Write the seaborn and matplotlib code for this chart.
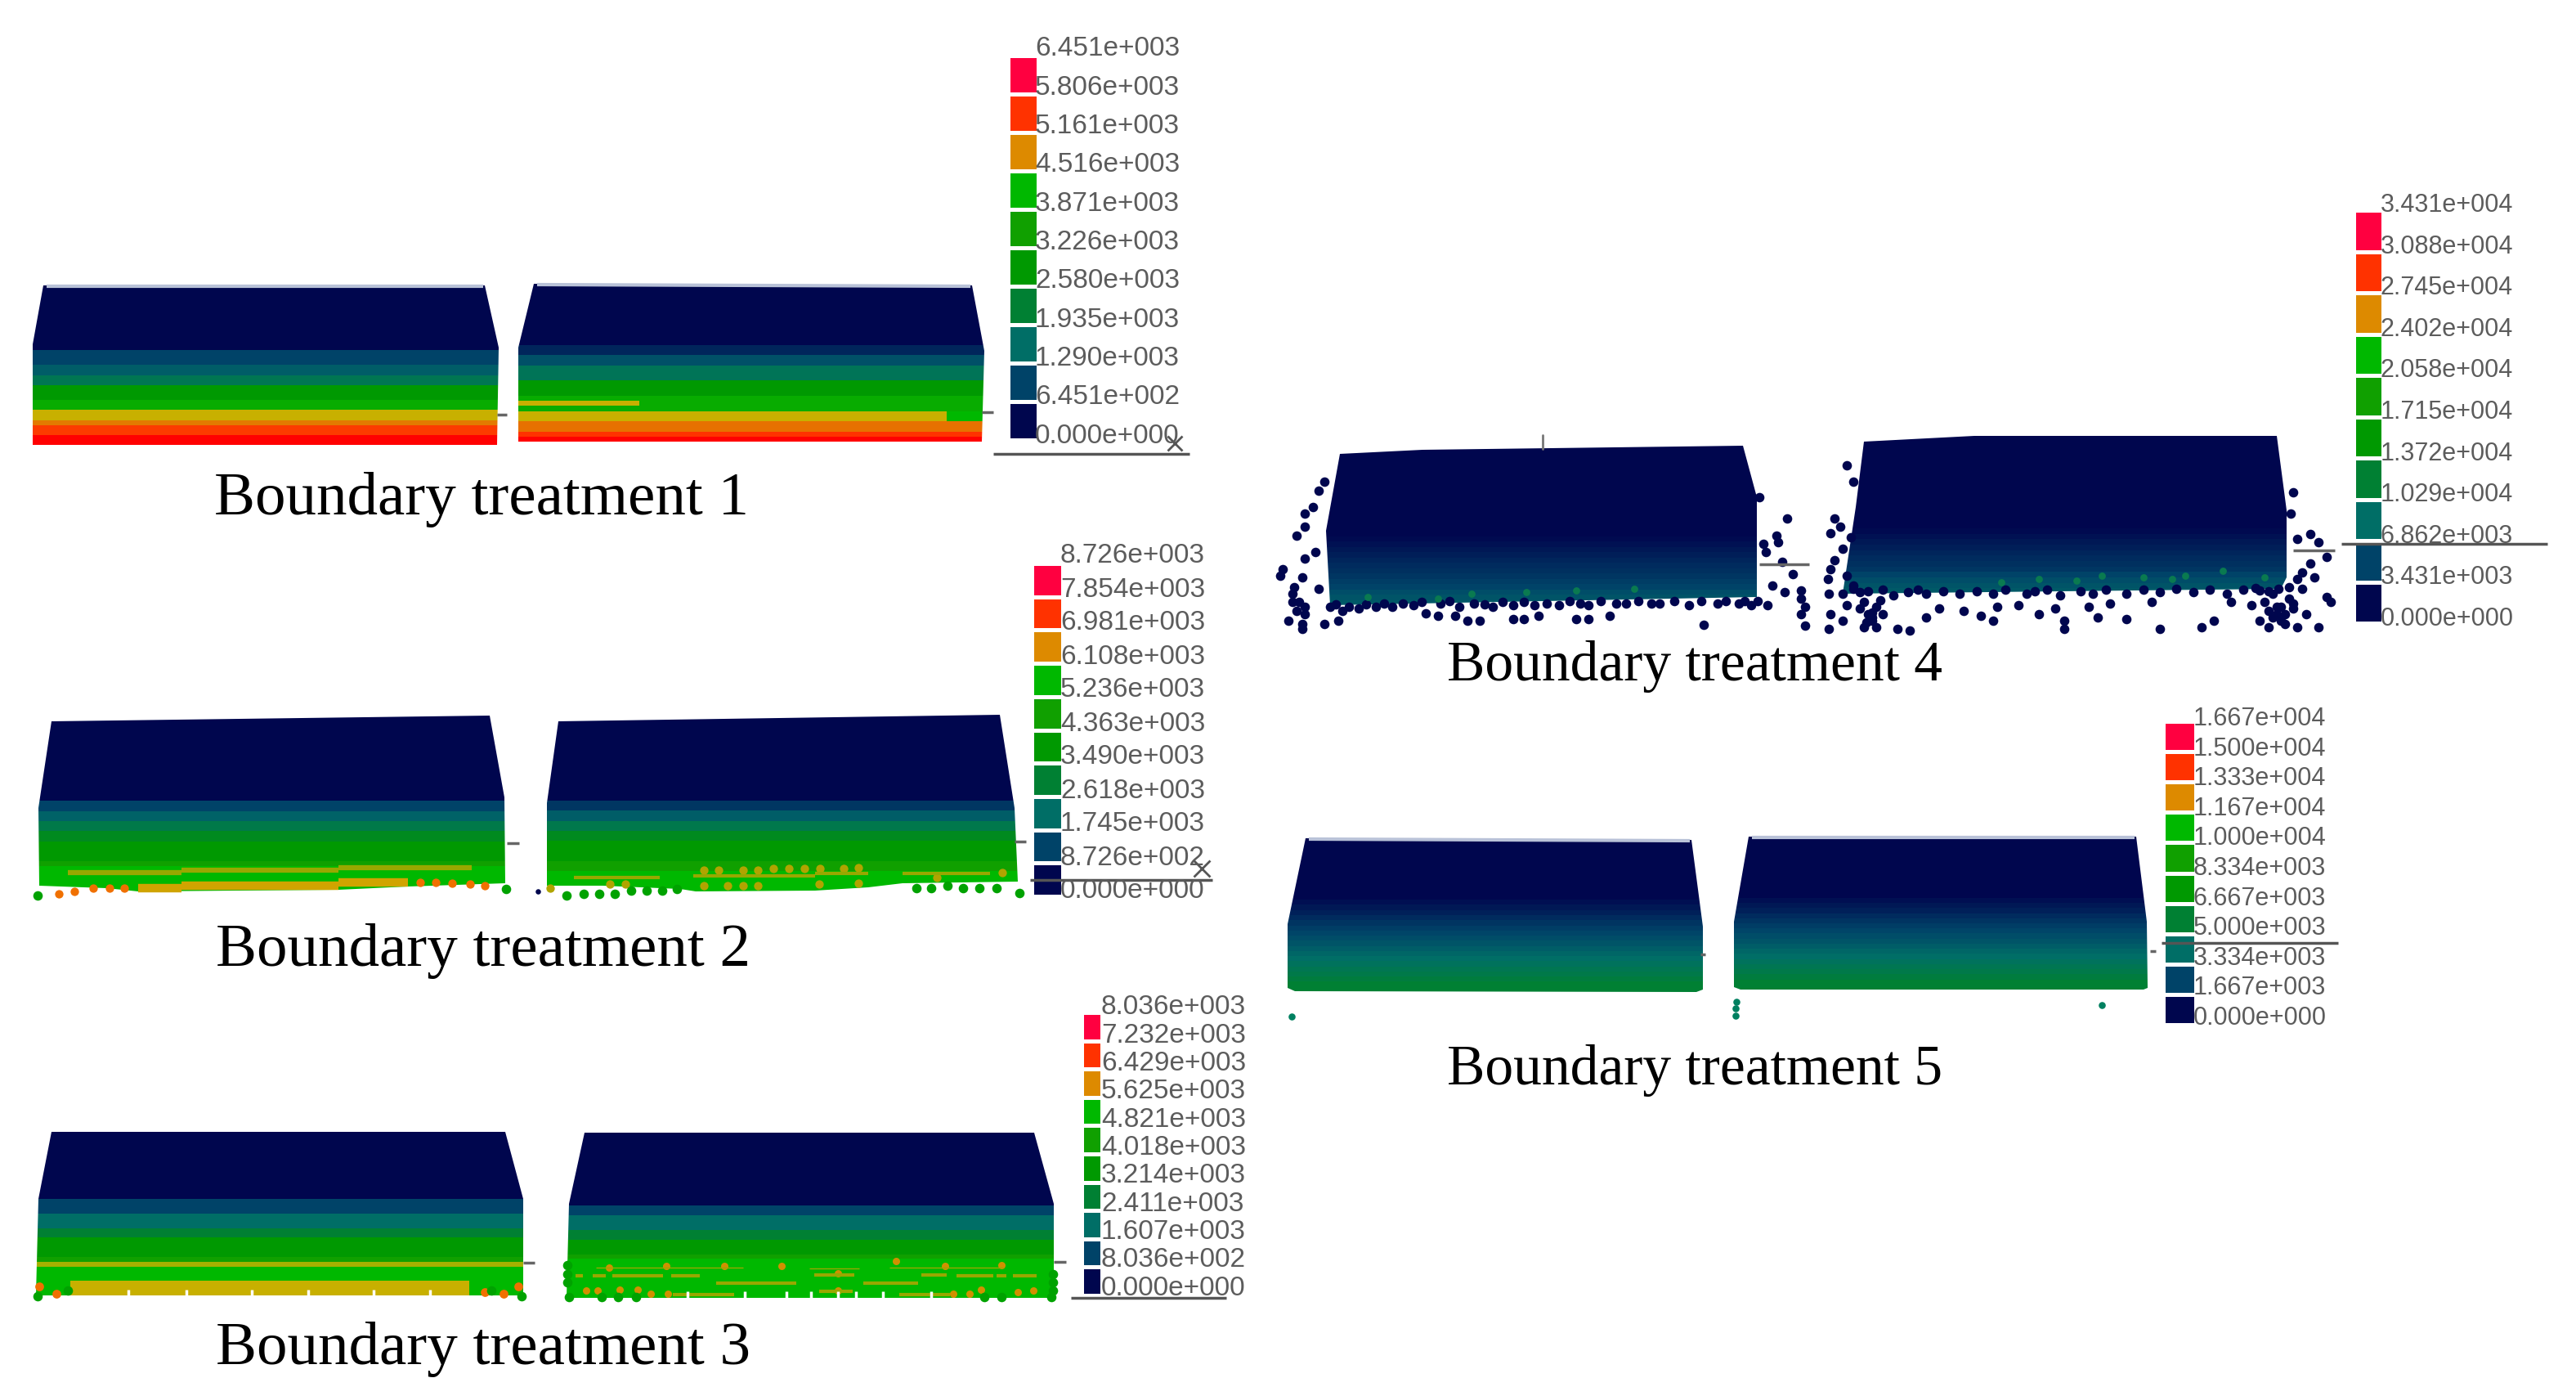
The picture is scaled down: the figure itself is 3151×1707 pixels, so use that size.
# Boundary treatment comparison, pressure fields of five boundary treatments
import numpy as np
import matplotlib
matplotlib.use("Agg")
import matplotlib.pyplot as plt
import seaborn as sns
from matplotlib.colors import LinearSegmentedColormap
from matplotlib.path import Path

sns.set_theme(style="white")
plt.rcParams["font.family"] = ["Liberation Sans", "DejaVu Sans"]

W, H = 3151, 1707

# -----------------------------
# Data
# -----------------------------
titles = ["Boundary treatment 1", "Boundary treatment 2", "Boundary treatment 3",
          "Boundary treatment 4", "Boundary treatment 5"]

scale_1 = ["6.451e+003", "5.806e+003", "5.161e+003", "4.516e+003", "3.871e+003", "3.226e+003",
           "2.580e+003", "1.935e+003", "1.290e+003", "6.451e+002", "0.000e+000"]
scale_2 = ["8.726e+003", "7.854e+003", "6.981e+003", "6.108e+003", "5.236e+003", "4.363e+003",
           "3.490e+003", "2.618e+003", "1.745e+003", "8.726e+002", "0.000e+000"]
scale_3 = ["8.036e+003", "7.232e+003", "6.429e+003", "5.625e+003", "4.821e+003", "4.018e+003",
           "3.214e+003", "2.411e+003", "1.607e+003", "8.036e+002", "0.000e+000"]
scale_4 = ["3.431e+004", "3.088e+004", "2.745e+004", "2.402e+004", "2.058e+004", "1.715e+004",
           "1.372e+004", "1.029e+004", "6.862e+003", "3.431e+003", "0.000e+000"]
scale_5 = ["1.667e+004", "1.500e+004", "1.333e+004", "1.167e+004", "1.000e+004", "8.334e+003",
           "6.667e+003", "5.000e+003", "3.334e+003", "1.667e+003", "0.000e+000"]

# colour level of each horizontal layer (top to bottom) and how many rows it spans
p1_left_levels = [0, 1, 1.6, 2.4, 4, 5.5, 6.6, 7.2, 7.9, 8.5]
p1_left_rows = [13, 3, 2, 2, 3, 2, 2, 1, 2, 2]
p1_right_levels = [0, 0.5, 1.3, 2.3, 4, 5.5, 6.6, 7.3, 8, 8.5]
p1_right_rows = [12, 2, 2, 3, 3, 3, 2, 2, 1, 1]

p2_left_levels = [0, 1, 1.7, 2.6, 3.4, 4, 5, 6]
p2_left_rows = [17, 2, 2, 2, 2, 4, 1, 5]
p2_right_levels = [0, 0.8, 1.6, 2.5, 3.4, 4, 5, 6]
p2_right_rows = [17, 2, 2, 2, 2, 4, 2, 4]

p3_left_levels = [0, 1, 2, 3, 4, 5, 6.5, 6, 6.6]
p3_left_rows = [14, 3, 3, 2, 4, 1, 1, 3, 3]
p3_right_levels = [0, 1, 2, 3, 4, 5, 6]
p3_right_rows = [15, 2, 3, 2, 3, 1, 8]

p4_left_levels = [0, 0.1, 0.2, 0.3, 0.4, 0.5, 0.6, 0.7, 0.8, 0.9, 1.0, 1.2, 1.4, 1.5]
p4_left_rows = [17, 1, 1, 1, 1, 1, 1, 1, 1, 1, 1, 1, 1, 1]
p4_right_levels = [0, 0.1, 0.2, 0.3, 0.4, 0.5, 0.6, 0.7, 0.8, 1.0, 1.2, 1.4, 1.5]
p4_right_rows = [17, 1, 1, 1, 1, 1, 1, 1, 1, 1, 1, 1, 1]

p5_left_levels = [0, .15, .3, .45, .6, .75, .9, 1.05, 1.2, 1.4, 1.6, 1.8, 2, 2.2, 2.4, 2.6, 2.8, 3]
p5_left_rows = [12, 1, 1, 1, 1, 1, 1, 1, 1, 1, 1, 1, 1, 1, 1, 1, 1, 2]
p5_right_levels = p5_left_levels
p5_right_rows = p5_left_rows

# local streaks in a layer: first row, last row, first column, last column, level
p1_right_streaks = [(23, 23, 0, 26, 6.6), (25, 26, 92, 100, 6)]
p3_left_streaks = [(31, 33, 0, 7, 6), (31, 33, 89, 100, 6)]

# stray particles, x/y in the coordinates of the crop they were read from
p4_stray_x = [78, 72, 65, 55, 55, 45, 68, 55, 28, 25, 52, 42, 72, 40, 40, 48, 55, 45, 55, 35, 52, 52,
              78, 95, 85, 100, 120, 140, 160, 185, 200, 215, 235, 250, 265, 305, 318, 335, 380, 395,
              420, 533, 240, 280, 305, 330, 360, 395, 440, 480, 515, 550, 575, 590, 610, 605, 608,
              620, 622, 633, 600, 627, 640, 615, 630, 650, 655, 650, 655, 650,
              705, 712, 690, 697, 685, 710, 700, 690, 685, 682, 705, 712, 683, 700, 705, 725, 740,
              730, 735, 725, 740, 685, 683, 700, 765, 780, 800, 815, 845, 865, 880, 885, 910, 935,
              955, 965, 965, 995, 1005, 1020, 1040, 1080, 1130, 1145, 1070, 1165, 1190, 1220, 1240,
              1210, 1230, 1245, 1270, 1255, 1280, 1285, 1265, 1250, 1260, 1280, 1245, 1260, 1270,
              1240, 1237, 1215, 1225, 1200, 1235, 1245, 720, 760, 800, 840, 880, 920, 960, 1000,
              1040, 1080, 1120, 1160, 1200]
p4_stray_y = [905, 930, 980, 1000, 1040, 1065, 1115, 1135, 1165, 1185, 1190, 1220, 1225, 1240, 1265,
              1265, 1280, 1290, 1300, 1320, 1330, 1345, 1330, 1320, 1280, 1290, 1285, 1280, 1280,
              1275, 1298, 1305, 1305, 1320, 1320, 1315, 1315, 1305, 1315, 1315, 1305, 1332, 1280,
              1280, 1275, 1275, 1275, 1275, 1270, 1270, 1275, 1270, 1270, 1275, 1275, 1090, 1115,
              1065, 1085, 1015, 950, 1145, 1180, 1215, 1235, 1255, 1280, 1300, 1335, 1230,
              855, 905, 1015, 1040, 1058, 1070, 1105, 1140, 1165, 1195, 1185, 1215, 1240, 1240,
              1275, 1265, 1280, 1300, 1320, 1340, 1340, 1300, 1345, 1320, 1345, 1350, 1310, 1285,
              1290, 1305, 1320, 1280, 1275, 1300, 1285, 1320, 1345, 1280, 1310, 1270, 1315, 1345,
              1340, 1320, 1265, 1265, 1275, 1300, 1270, 1340, 1330, 1340, 1340, 1300, 1250, 1265,
              1190, 1175, 1150, 1130, 1075, 1060, 1085, 935, 1000, 1240, 1280, 1320, 1220, 1195,
              1235, 1245, 1240, 1240, 1240, 1240, 1245, 1240, 1240, 1235, 1235, 1240, 1230]
# denser particles along the lower edges of treatment 4
p4_edge_x = [92, 108, 128, 150, 172, 195, 218, 228, 258, 270, 292, 318, 345, 372, 385, 410, 428, 455,
             470, 498, 530, 560, 582, 598, 712, 730, 748, 778, 790, 820, 860, 895, 930, 945, 985,
             1015, 1060, 1100, 1140, 1180, 1195, 1210, 1222, 720, 735, 748, 728, 745, 735, 1205, 1220,
             1235, 1215, 1230, 1210, 1225, 1240, 1250]
p4_edge_y = [1272, 1278, 1272, 1270, 1268, 1265, 1270, 1262, 1268, 1272, 1265, 1265, 1268, 1262, 1270,
             1262, 1268, 1262, 1268, 1262, 1262, 1262, 1262, 1262, 1225, 1232, 1228, 1235, 1228, 1232,
             1232, 1228, 1232, 1228, 1232, 1228, 1228, 1225, 1228, 1228, 1222, 1232, 1225, 1285, 1310,
             1300, 1325, 1260, 1295, 1265, 1280, 1255, 1310, 1300, 1290, 1320, 1285, 1225]
# brighter speckle in the lower part of treatment 4
p4_spot_x = [215, 255, 320, 380, 890, 935, 1010, 1095, 1110, 1155, 1205, 130, 450, 980, 1060]
p4_spot_y = [1255, 1240, 1235, 1230, 1205, 1195, 1185, 1195, 1185, 1170, 1190, 1250, 1225, 1200, 1190]

# treatment 2, left block, crop x0, x1, y of the yellow strips
p2l_olive_x0 = [130, 470, 940]
p2l_olive_x1 = [470, 940, 1340]
p2l_olive_y = [82, 72, 62]
p2l_yellow_x0 = [340, 470, 940]
p2l_yellow_x1 = [470, 940, 1150]
p2l_yellow_y = [137, 130, 117]
p2l_spot_x = [205, 255, 298, 1185, 1232, 1282, 1335, 1380, 103, 150]
p2l_spot_y = [138, 138, 138, 118, 118, 120, 122, 130, 158, 150]
p2l_green_x = [40, 1443]
p2l_green_y = [165, 140]

# treatment 2, right block
p2r_olive_x0 = [110, 490, 880, 1160]
p2r_olive_x1 = [385, 880, 1050, 1440]
p2r_olive_y = [100, 92, 85, 83]
p2r_spot_x = [525, 572, 650, 698, 748, 797, 848, 897, 973, 1020, 525, 600, 650, 698, 895, 1020, 35,
              225, 275, 1270, 1480]
p2r_spot_y = [72, 72, 72, 72, 65, 65, 65, 65, 65, 62, 130, 130, 130, 130, 122, 120, 138, 122, 122,
              100, 80]
p2r_green_x = [85, 140, 190, 240, 292, 342, 392, 440, 1205, 1253, 1303, 1355, 1405, 1462, 1535]
p2r_green_y = [165, 158, 158, 158, 148, 148, 148, 140, 138, 138, 130, 138, 138, 138, 155]

# treatment 3, left block
p3l_orange_x = [95, 1435, 45, 1480, 1380]
p3l_orange_y = [155, 155, 130, 130, 150]
p3l_green_x = [40, 1490, 130, 1400]
p3l_green_y = [165, 165, 145, 145]
p3l_notch_x = [310, 485, 680, 850, 1045, 1215]

# treatment 3, right block
p3r_olive_x0 = [120, 760, 1000, 60, 110, 170, 345, 775, 1095, 1200, 1320, 1370, 480, 920, 350, 790, 1030]
p3r_olive_x1 = [560, 910, 1340, 80, 150, 320, 430, 895, 1170, 1310, 1350, 1440, 720, 1085, 535, 890, 1180]
p3r_olive_y = [150, 152, 150, 180, 180, 180, 180, 178, 178, 180, 180, 180, 208, 208, 250, 238, 250]
p3r_olive_lw = [1, 1, 1, 3, 3, 3, 3, 3, 3, 3, 3, 3, 3, 3, 3, 3, 3]
p3r_spot_x = [160, 330, 505, 675, 845, 1020, 1165, 1335, 90, 125, 190, 245, 285, 335, 1190, 1240, 1275,
              1385, 1430, 845]
p3r_spot_y = [150, 145, 145, 143, 170, 125, 145, 140, 235, 235, 232, 232, 245, 245, 245, 245, 232,
              240, 235, 235]
p3r_green_x = [38, 138, 185, 240, 1283, 1335, 1485, 35, 35, 35, 1490, 1490, 1490]
p3r_green_y = [258, 258, 258, 258, 258, 258, 258, 140, 175, 205, 175, 205, 235]
p3r_notch_x = [395, 565, 690, 765, 845, 900, 980, 1125]

p5_stray_x = [47, 692, 692, 694, 1225]
p5_stray_y = [1150, 1145, 1120, 1095, 1108]

# -----------------------------
# Colours
# -----------------------------
swatch_levels = [9, 8, 7, 6, 5, 4, 3, 2, 1, 0]
level_cmap = LinearSegmentedColormap.from_list("levels", [
    (0 / 9, "#00064e"), (1 / 9, "#004468"), (2 / 9, "#006f66"), (3 / 9, "#008033"),
    (4 / 9, "#009900"), (5 / 9, "#10a000"), (6 / 9, "#00b800"), (6.6 / 9, "#c8b000"),
    (7 / 9, "#dc8c00"), (8 / 9, "#ff3300"), (8.5 / 9, "#ff0000"), (9 / 9, "#ff0040")])
OLIVE = "#98a800"
YELLOW = "#d0a400"
ORANGE = "#f07000"
GREEN = "#00a200"
NAVY = "#00064e"

# -----------------------------
# Layout, in picture pixels
# -----------------------------
blocks = [
    (p1_left_levels, p1_left_rows, [],
     [(53, 349), (593, 349), (610, 425), (608, 544), (40, 544), (40, 421)]),
    (p1_right_levels, p1_right_rows, p1_right_streaks,
     [(653, 347), (1189, 349), (1204, 429), (1201, 540), (634, 540), (634, 425)]),
    (p2_left_levels, p2_left_rows, [],
     [(63, 882), (599, 875), (617, 975), (618, 1080), (499, 1084), (414, 1088), (169, 1090),
      (130, 1086), (48, 1083), (47, 988)]),
    (p2_right_levels, p2_right_rows, [],
     [(683, 882), (1223, 874), (1241, 988), (1245, 1078), (1104, 1080), (1062, 1085), (997, 1089),
      (851, 1090), (832, 1087), (737, 1083), (669, 1083), (669, 982)]),
    (p3_left_levels, p3_left_rows, p3_left_streaks,
     [(63, 1384), (618, 1384), (640, 1466), (640, 1584), (44, 1584), (47, 1466)]),
    (p3_right_levels, p3_right_rows, [],
     [(715, 1385), (1265, 1385), (1289, 1472), (1289, 1587), (693, 1587), (696, 1472)]),
    (p4_left_levels, p4_left_rows, [],
     [(1639, 555), (1740, 550), (2132, 545), (2149, 608), (2149, 730), (1627, 740), (1622, 649)]),
    (p4_right_levels, p4_right_rows, [],
     [(2280, 540), (2415, 533), (2785, 533), (2797, 624), (2797, 706), (2790, 720), (2254, 726),
      (2270, 620)]),
    (p5_left_levels, p5_left_rows, [],
     [(1597, 1025), (2069, 1027), (2083, 1133), (2083, 1210), (2075, 1213), (1584, 1212), (1575, 1208),
      (1575, 1130)]),
    (p5_right_levels, p5_right_rows, [],
     [(2139, 1023), (2613, 1023), (2626, 1127), (2627, 1208), (2622, 1210), (2129, 1210), (2121, 1207),
      (2121, 1127)]),
]

# x0, x1, y0, y1 of swatches; x, first y, last y and size of the labels
legends = [
    (scale_1, (1233, 1270, 68, 538), (1266, 60, 533, 24)),
    (scale_2, (1262, 1300, 689, 1096), (1297, 680, 1090, 24)),
    (scale_3, (1323, 1348, 1238, 1584), (1347, 1232, 1575, 24)),
    (scale_4, (2879, 2915, 257, 762), (2912, 251, 757, 22)),
    (scale_5, (2646, 2686, 882, 1253), (2683, 879, 1245, 22)),
]

title_pos = [(589, 629), (591, 1181), (591, 1668), (2073, 832), (2073, 1326)]
title_size = [54, 54, 54, 50, 50]

axis_lines = [(1215, 1455, 555), (1260, 1483, 1076), (1310, 1500, 1587), (2864, 3116, 665),
              (2644, 2860, 1153)]
side_ticks = [(608, 620, 507), (1201, 1215, 504), (620, 635, 1031), (1241, 1255, 1029),
              (640, 654, 1544), (1289, 1304, 1543), (2152, 2213, 690), (2805, 2856, 673),
              (2080, 2086, 1167), (2630, 2637, 1163)]

# -----------------------------
# Helpers
# -----------------------------
fig = plt.figure(figsize=(W / 100, H / 100), dpi=100, facecolor="white")


def pixel_axes(x0, x1, y0, y1, zorder=1):
    ax = fig.add_axes([x0 / W, 1 - y1 / H, (x1 - x0) / W, (y1 - y0) / H], zorder=zorder)
    ax.set_axis_off()
    return ax


def crop_axes(x0, y0, w, h, crop_w, crop_h):
    # axes whose data coordinates are those of a zoomed crop of the picture
    ax = pixel_axes(x0, x0 + w, y0, y0 + h, zorder=3)
    ax.set_xlim(0, crop_w)
    ax.set_ylim(crop_h, 0)
    ax.patch.set_alpha(0)
    return ax


def dots(ax, x, y, color, size):
    sns.scatterplot(x=x, y=y, ax=ax, color=color, marker="o", s=size, linewidth=0, clip_on=False)


overlay = pixel_axes(0, W, 0, H, zorder=5)
overlay.set_xlim(0, W)
overlay.set_ylim(H, 0)
overlay.patch.set_alpha(0)

# -----------------------------
# Particle blocks
# -----------------------------
for levels, rows, streaks, outline in blocks:
    grid = np.repeat(levels, rows)[:, None] * np.ones((1, 100))
    for r0, r1, c0, c1, level in streaks:
        grid[r0:r1 + 1, c0:c1] = level

    xs, ys = zip(*outline)
    ax = pixel_axes(min(xs), max(xs), min(ys), max(ys), zorder=2)
    sns.heatmap(grid, ax=ax, cmap=level_cmap, vmin=0, vmax=9, cbar=False,
                xticklabels=False, yticklabels=False)
    ax.set_axis_off()
    ax.collections[0].set_clip_path(Path(list(outline) + [outline[0]]), overlay.transData)

# pale top edge seen on the blocks
for levels, rows, streaks, outline in blocks[-2:] + blocks[:2]:
    overlay.plot([outline[0][0] + 4, outline[1][0] - 2], [outline[0][1] + 1, outline[1][1] + 1],
                 color="#b9c2d8", lw=3, solid_capstyle="butt")

# -----------------------------
# Treatment 4 and 5 stray particles
# -----------------------------
crop4 = crop_axes(1540, 220, 1600, 640, 1568, 1568)
dots(crop4, p4_stray_x, p4_stray_y, NAVY, 70)
dots(crop4, p4_edge_x, p4_edge_y, NAVY, 70)
dots(crop4, p4_spot_x, p4_spot_y, "#0a7a50", 40)

crop5 = crop_axes(1540, 860, 1320, 500, 1568, 1500)
dots(crop5, p5_stray_x, p5_stray_y, "#008060", 38)

# -----------------------------
# Treatment 2 and 3 streaks and edge particles
# -----------------------------
c2l = crop_axes(30, 1040, 640, 60, 1568, 180)
c2l.hlines(p2l_olive_y, p2l_olive_x0, p2l_olive_x1, color=OLIVE, lw=4.5)
c2l.hlines(p2l_yellow_y, p2l_yellow_x0, p2l_yellow_x1, color=YELLOW, lw=7.5)
dots(c2l, p2l_spot_x, p2l_spot_y, ORANGE, 55)
dots(c2l, p2l_green_x, p2l_green_y, GREEN, 70)

c2r = crop_axes(660, 1040, 600, 60, 1568, 180)
c2r.hlines(p2r_olive_y, p2r_olive_x0, p2r_olive_x1, color=OLIVE, lw=3)
dots(c2r, p2r_spot_x, p2r_spot_y, "#b0a400", 55)
dots(c2r, p2r_green_x, p2r_green_y, GREEN, 70)
dots(overlay, [658], [1090], NAVY, 22)

c3l = crop_axes(30, 1530, 640, 70, 1568, 210)
c3l.vlines(p3l_notch_x, 140, 165, color="white", lw=2.5)
dots(c3l, p3l_orange_x, p3l_orange_y, ORANGE, 60)
dots(c3l, p3l_green_x, p3l_green_y, GREEN, 70)

c3r = crop_axes(680, 1500, 640, 100, 1568, 300)
c3r.hlines(p3r_olive_y, p3r_olive_x0, p3r_olive_x1, color=OLIVE, lw=p3r_olive_lw)
c3r.vlines(p3r_notch_x, 238, 268, color="white", lw=2.5)
dots(c3r, p3r_spot_x, p3r_spot_y, "#d09000", 42)
dots(c3r, p3r_green_x, p3r_green_y, GREEN, 70)

# -----------------------------
# Colour scales
# -----------------------------
for labels, (x0, x1, y0, y1), (tx, ty0, ty1, size) in legends:
    ax = pixel_axes(x0, x1, y0, y1, zorder=2)
    sns.heatmap(np.array(swatch_levels)[:, None], ax=ax, cmap=level_cmap, vmin=0, vmax=9, cbar=False,
                xticklabels=False, yticklabels=False, linewidths=3.5, linecolor="white")
    ax.set_axis_off()
    for label, y in zip(labels, np.linspace(ty0, ty1, len(labels))):
        overlay.text(tx, y, label, fontsize=size, color="#5c5c5c", va="center", ha="left")

# -----------------------------
# Axis remains and captions
# -----------------------------
for x0, x1, y in axis_lines:
    overlay.plot([x0, x1], [y, y], color="#555555", lw=2.5, solid_capstyle="butt")
for x0, x1, y in side_ticks:
    overlay.plot([x0, x1], [y, y], color="#666666", lw=2.5, solid_capstyle="butt")
overlay.plot([1887, 1887], [532, 549], color="#777777", lw=2)
overlay.plot([1437], [542], ls="none", marker="x", ms=13, mew=2, color="#555555")
overlay.plot([1470], [1062], ls="none", marker="x", ms=15, mew=2, color="#555555")

for title, (x, y), size in zip(titles, title_pos, title_size):
    overlay.text(x, y, title, fontsize=size, family="Liberation Serif", color="black",
                 ha="center", va="baseline")

fig.savefig("out.png", dpi=100)
